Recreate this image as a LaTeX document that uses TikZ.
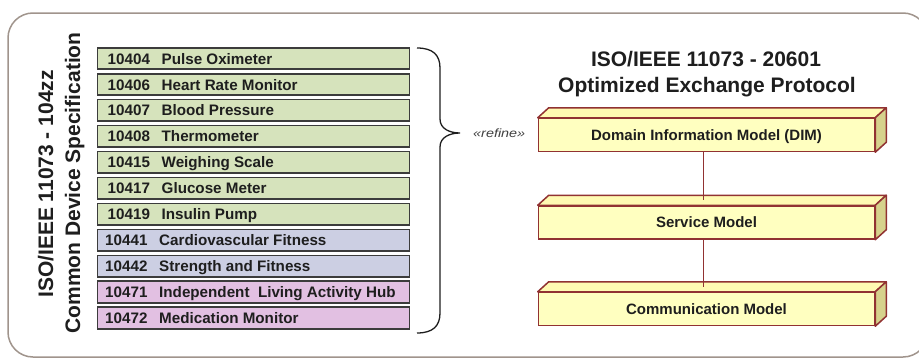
\documentclass[tikz,border=0pt]{standalone}
\usepackage{fontspec}
\setmainfont{Liberation Sans}
\usetikzlibrary{calc}
\definecolor{itgreen}{RGB}{214,227,188}
\definecolor{itblue}{RGB}{204,207,227}
\definecolor{itpink}{RGB}{226,192,226}
\definecolor{itborder}{RGB}{60,60,60}
\definecolor{yfront}{RGB}{255,255,192}
\definecolor{ytop}{RGB}{255,250,178}
\definecolor{yside}{RGB}{214,210,140}
\definecolor{bred}{RGB}{145,50,50}
\definecolor{frame}{RGB}{160,148,140}
\definecolor{txt}{RGB}{30,30,30}
\begin{document}
\begin{tikzpicture}[x=1pt,y=-1pt,
  itembox/.style={draw=itborder,line width=1.6pt,minimum width=312pt,minimum height=21.5pt,inner sep=0pt,anchor=west},
  itemtxt/.style={font=\fontsize{15.2}{17}\selectfont\bfseries,text=txt,anchor=base west,inner sep=0pt},
  vtitle/.style={font=\fontsize{21}{25}\selectfont\bfseries,text=txt,rotate=90,anchor=base,inner sep=0pt},
  htitle/.style={font=\fontsize{21}{25}\selectfont\bfseries,text=txt,anchor=base,inner sep=0pt},
  modelbox/.style={draw=bred,line width=1.5pt,fill=yfront,minimum width=336pt,minimum height=33pt,inner sep=0pt,
    text height=10.8pt,text depth=0pt,font=\fontsize{15}{17}\selectfont\bfseries,text=txt},
  face/.style={draw=bred,line width=1.5pt,line join=round},
  link/.style={draw=bred,line width=1.8pt}
]
\useasboundingbox (0,0) rectangle (919,359);
\fill[white] (0,0) rectangle (919,359);
\begin{scope}
\clip (0,0) rectangle (919,359);
\draw[frame,line width=1.5pt,rounded corners=25pt] (8,13) rectangle (928,357);
\end{scope}

% vertical title
\node[vtitle] (vt1) at (53,184) {ISO/IEEE 11073 - 104zz};
\node[vtitle] (vt2) at (80,183) {Common Device Specification};

% list
\foreach \i/\y/\c/\n/\name/\dx in {
  1/58.5/itgreen/10404/Pulse Oximeter/0,
  2/84.5/itgreen/10406/Heart Rate Monitor/0,
  3/110.4/itgreen/10407/Blood Pressure/0,
  4/136.3/itgreen/10408/Thermometer/0,
  5/162.3/itgreen/10415/Weighing Scale/0,
  6/188.2/itgreen/10417/Glucose Meter/0,
  7/214.2/itgreen/10419/Insulin Pump/0,
  8/240.1/itblue/10441/Cardiovascular Fitness/-2.5,
  9/266.1/itblue/10442/Strength and Fitness/-2.5,
  10/292.0/itpink/10471/Independent\ \ Living Activity Hub/-2.5,
  11/318.0/itpink/10472/Medication Monitor/-2.5}
{
  \node[itembox,fill=\c] (r\i) at (96.5,\y) {};
  \node[itemtxt] (num\i) at ($(r\i.west)+(11+\dx,5.5)$) {\n};
  \node[itemtxt] (nam\i) at ($(r\i.west)+(65+\dx,5.5)$) {\name};
}

% brace
\coordinate (bt) at (417,48);
\coordinate (bb) at (417,333);
\coordinate (btip) at (460,133);
\draw[line width=1.3pt,txt] (bt) .. controls (433,48) and (440,55) .. (440,68) -- (440,119)
  .. controls (440,129) and (450,133) .. (btip)
  .. controls (450,133) and (440,137) .. (440,147) -- (440,313)
  .. controls (440,326) and (433,333) .. (bb);
\node[font=\fontsize{12}{13}\selectfont\itshape,text=txt!85,anchor=west,inner sep=0pt] (refine) at (473,133) {\scalebox{1.2}[1]{«refine»}};

% right title
\node[htitle] (t1) at (706,66) {ISO/IEEE 11073 - 20601};
\node[htitle] (t2) at (707,92) {Optimized Exchange Protocol};

% 3D boxes
\foreach \nm/\y/\lab in {dim/135/Domain Information Model (DIM), svc/222.5/Service Model, com/309/Communication Model}{
  \node[modelbox] (\nm) at (706.5,\y) {\lab};
  \filldraw[face,fill=ytop] (\nm.north west) -- ++(11,-10) -- ($(\nm.north east)+(11,-10)$) -- (\nm.north east) -- cycle;
  \filldraw[face,fill=yside] (\nm.north east) -- ++(11,-10) -- ($(\nm.south east)+(11,-10)$) -- (\nm.south east) -- cycle;
  \node[modelbox] at (\nm) {\lab};
}

% connectors
\draw[link] ($(dim.south)+(-3,0)$) -- ($(svc.north)+(-3,-5)$);
\draw[link] ($(svc.south)+(-3,0)$) -- ($(com.north)+(-3,-5)$);
\end{tikzpicture}
\end{document}
